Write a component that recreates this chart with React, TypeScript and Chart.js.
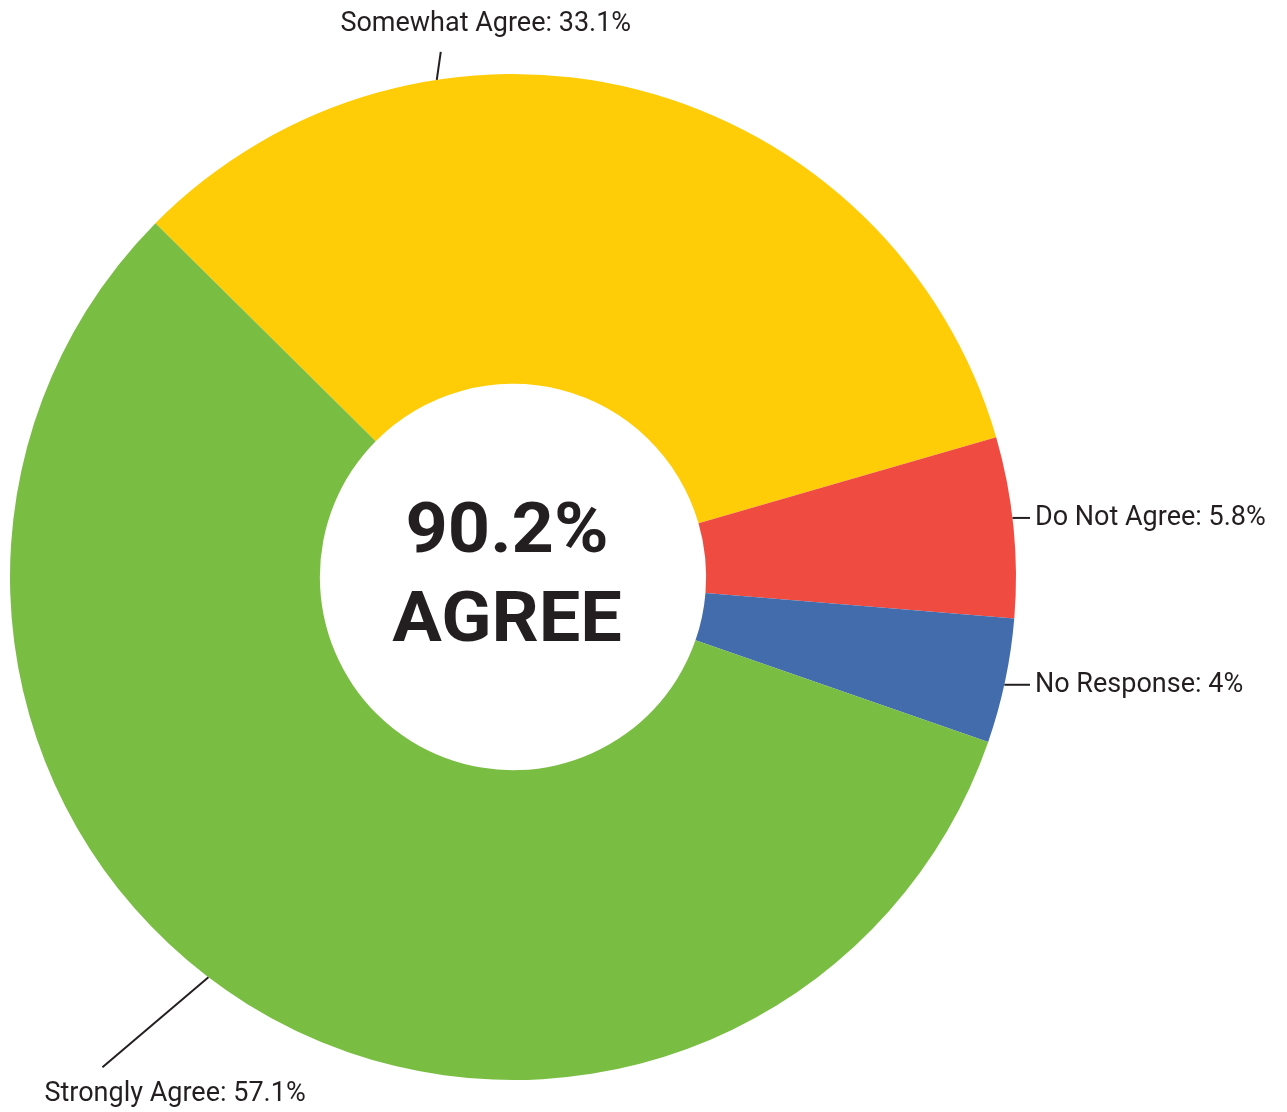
import React, { useEffect, useRef } from "react";
import { Chart, registerables } from "chart.js";

Chart.register(...registerables);

const categories = ["Somewhat Agree", "Do Not Agree", "No Response", "Strongly Agree"];
const values = [33.1, 5.8, 4, 57.1];
const colors = ["#FECD08", "#EF4B40", "#436CAC", "#79BD43"];
const centerLines = ["90.2%", "AGREE"];
// where along each slice (0..1) the leader line starts
const anchorFractions = [0.307, 0.45, 0.53, 0.526];

const TEXT = "#231F20";
const LABEL_FONT = "27px Roboto";
const CENTER_FONT = "bold 71px Roboto";
const CENTER_STRETCH = 1.04;

const labelPlugin = {
  id: "leaderLabels",
  afterDraw(chart: any) {
    const ctx = chart.ctx;
    const meta = chart.getDatasetMeta(0);
    const arcs = meta.data;
    if (!arcs.length) return;
    const cx = arcs[0].x;
    const cy = arcs[0].y;
    const R = arcs[0].outerRadius;
    ctx.save();
    ctx.strokeStyle = TEXT;
    ctx.fillStyle = TEXT;
    ctx.lineWidth = 2;
    ctx.font = LABEL_FONT;
    ctx.textBaseline = "middle";
    arcs.forEach((arc: any, i: number) => {
      const a = arc.startAngle + anchorFractions[i] * (arc.endAngle - arc.startAngle);
      const ax = cx + R * Math.cos(a);
      const ay = cy + R * Math.sin(a);
      const text = `${categories[i]}: ${values[i]}%`;
      let ex = ax, ey = ay, tx = 0, ty = 0, align: CanvasTextAlign = "left";
      if (i === 0) {
        ex = ax + 4; ey = ay - 28;
        tx = ex + 45; ty = ey - 28; align = "center";
      } else if (i === 1 || i === 2) {
        ex = cx + R + 14; ey = ay;
        tx = ex + 5; ty = ey; align = "left";
      } else {
        ex = ax - 106; ey = ay + 90;
        tx = ex - 58; ty = ey + 27; align = "left";
      }
      ctx.beginPath();
      ctx.moveTo(ax, ay);
      ctx.lineTo(ex, ey);
      ctx.stroke();
      ctx.textAlign = align;
      ctx.fillText(text, tx, ty);
    });
    ctx.font = CENTER_FONT;
    ctx.textAlign = "center";
    ctx.textBaseline = "middle";
    ctx.translate(cx - 6, cy);
    ctx.scale(CENTER_STRETCH, 1);
    ctx.fillText(centerLines[0], 0, -43);
    ctx.fillText(centerLines[1], 0, 46);
    ctx.restore();
  },
};

export default function App() {
  const ref = useRef<HTMLCanvasElement | null>(null);
  useEffect(() => {
    if (!ref.current) return;
    const chart = new Chart(ref.current, {
      type: "doughnut",
      data: {
        labels: categories,
        datasets: [
          {
            data: values,
            backgroundColor: colors,
            borderWidth: 0,
            hoverOffset: 0,
          },
        ],
      },
      options: {
        responsive: true,
        maintainAspectRatio: false,
        animation: false,
        rotation: -45.3,
        cutout: "38.4%",
        layout: { padding: { left: 10, right: 271, top: 74, bottom: 32 } },
        plugins: {
          legend: { display: false },
          tooltip: { enabled: false },
        },
      },
      plugins: [labelPlugin],
    });
    return () => chart.destroy();
  }, []);
  return (
    <div style={{ position: "fixed", left: 0, top: 0, width: 1287, height: 1112, background: "#fff" }}>
      <canvas ref={ref} />
    </div>
  );
}
